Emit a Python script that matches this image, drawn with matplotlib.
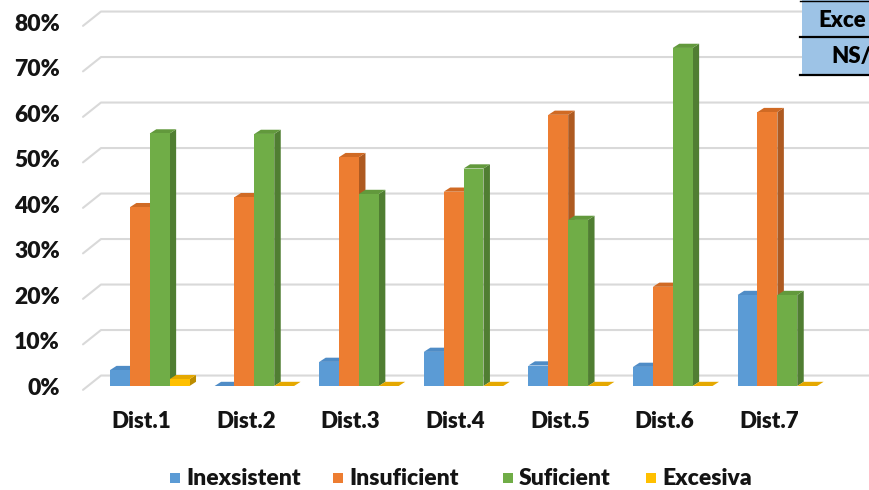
import matplotlib
matplotlib.use("Agg")
import matplotlib.pyplot as plt
from matplotlib.patches import Polygon, Rectangle

# ---------------- data ----------------
categories = ["Dist.1", "Dist.2", "Dist.3", "Dist.4", "Dist.5", "Dist.6", "Dist.7"]
series_names = ["Inexsistent", "Insuficient", "Suficient", "Excesiva"]
inexsistent = [3.5, 0.0, 5.3, 7.5, 4.5, 4.2, 20.0]
insuficient = [39.3, 41.5, 50.3, 42.7, 59.6, 21.8, 60.2]
suficient = [55.5, 55.4, 42.2, 47.8, 36.5, 74.3, 20.0]
excesiva = [1.5, 0.0, 0.0, 0.0, 0.0, 0.0, 0.0]
y_ticks = [0, 10, 20, 30, 40, 50, 60, 70, 80]
y_tick_labels = ["0%", "10%", "20%", "30%", "40%", "50%", "60%", "70%", "80%"]
table_texts = ["Exce", "NS/"]

# ---------------- styles ----------------
front_cols = ["#5B9BD5", "#ED7D31", "#70AD47", "#FFC000"]
side_cols = ["#41719C", "#AE5A21", "#507E32", "#BC8C00"]
top_cols = ["#4F8CC6", "#D06A24", "#62993C", "#E5A800"]
FONT = "Lato"
WEIGHT = "heavy"
TXT = "#141414"

W, H = 870, 490
PXX = 104.6      # px per category
PXY = 4.55       # px per percent
X0PX, Y0PX = 141.4, 386.0


def px2x(px):
    return (px - X0PX) / PXX


def px2y(py):
    return (Y0PX - py) / PXY


fig = plt.figure(figsize=(W / 100, H / 100), dpi=100)
ax = fig.add_axes([0, 0, 1, 1])
ax.set_xlim(px2x(0), px2x(W))
ax.set_ylim(px2y(H), px2y(0))
ax.axis("off")

# gridlines (back wall with perspective foot)
for v, lab in zip(y_ticks, y_tick_labels):
    ax.plot([px2x(83), px2x(101), px2x(W + 5)], [v - 0.85, v + 2.3, v + 2.3],
            color="#D9D9D9", lw=1.5, zorder=1, solid_capstyle="round")
    ax.text(px2x(60), v - 0.5, lab, ha="right", va="center",
            fontsize=16.5, fontweight=WEIGHT, family=FONT, color=TXT)

# bars with pseudo 3D faces
bw = 0.19
shift = 0.08
ddx = 6.5 / PXX
ddy = 4.2 / PXY
all_series = [inexsistent, insuficient, suficient, excesiva]
for j, (vals, name) in enumerate(zip(all_series, series_names)):
    xs = [i + shift + (j - 2) * bw for i in range(len(categories))]
    zb = 2 + j * 0.1
    for x, h in zip(xs, vals):
        side = Polygon([(x + bw, 0), (x + bw + ddx, ddy), (x + bw + ddx, h + ddy), (x + bw, h)],
                       closed=True, facecolor=side_cols[j], edgecolor="none", zorder=zb)
        top = Polygon([(x, h), (x + bw, h), (x + bw + ddx, h + ddy), (x + ddx, h + ddy)],
                      closed=True, facecolor=top_cols[j], edgecolor="none", zorder=zb)
        ax.add_patch(side)
        ax.add_patch(top)
    ax.bar(xs, vals, width=bw, align="edge", color=front_cols[j], edgecolor="none",
           zorder=zb + 0.05, label=name)

# category labels
for i, c in enumerate(categories):
    ax.text(i, px2y(421), c, ha="center", va="center", fontsize=16,
            fontweight=WEIGHT, family=FONT, color=TXT)

# legend (manual)
sq_px = [170, 333, 503, 646]
for j, name in enumerate(series_names):
    ax.add_patch(Rectangle((px2x(sq_px[j]), px2y(483)), 10 / PXX, 10 / PXY,
                           facecolor=front_cols[j], edgecolor="none"))
    ax.text(px2x(sq_px[j] + 16), px2y(478), name, ha="left", va="center",
            fontsize=16.5, fontweight=WEIGHT, family=FONT, color=TXT)

# partial table at top right
ax.add_patch(Rectangle((px2x(802), px2y(75)), (W + 10 - 802) / PXX, 75 / PXY,
                       facecolor="#9DC3E6", edgecolor="none", zorder=5))
for py in [1, 37.5, 75]:
    ax.plot([px2x(800), px2x(W + 5)], [px2y(py), px2y(py)], color="black",
            lw=1.6 if py > 1 else 1.0, zorder=6)
ax.text(px2x(818), px2y(21), table_texts[0], ha="left", va="center", fontsize=16,
        fontweight=WEIGHT, family=FONT, color="black", zorder=7)
ax.text(px2x(831), px2y(57), table_texts[1], ha="left", va="center", fontsize=16,
        fontweight=WEIGHT, family=FONT, color="black", zorder=7)

fig.savefig("out.png", dpi=100, facecolor="white")
